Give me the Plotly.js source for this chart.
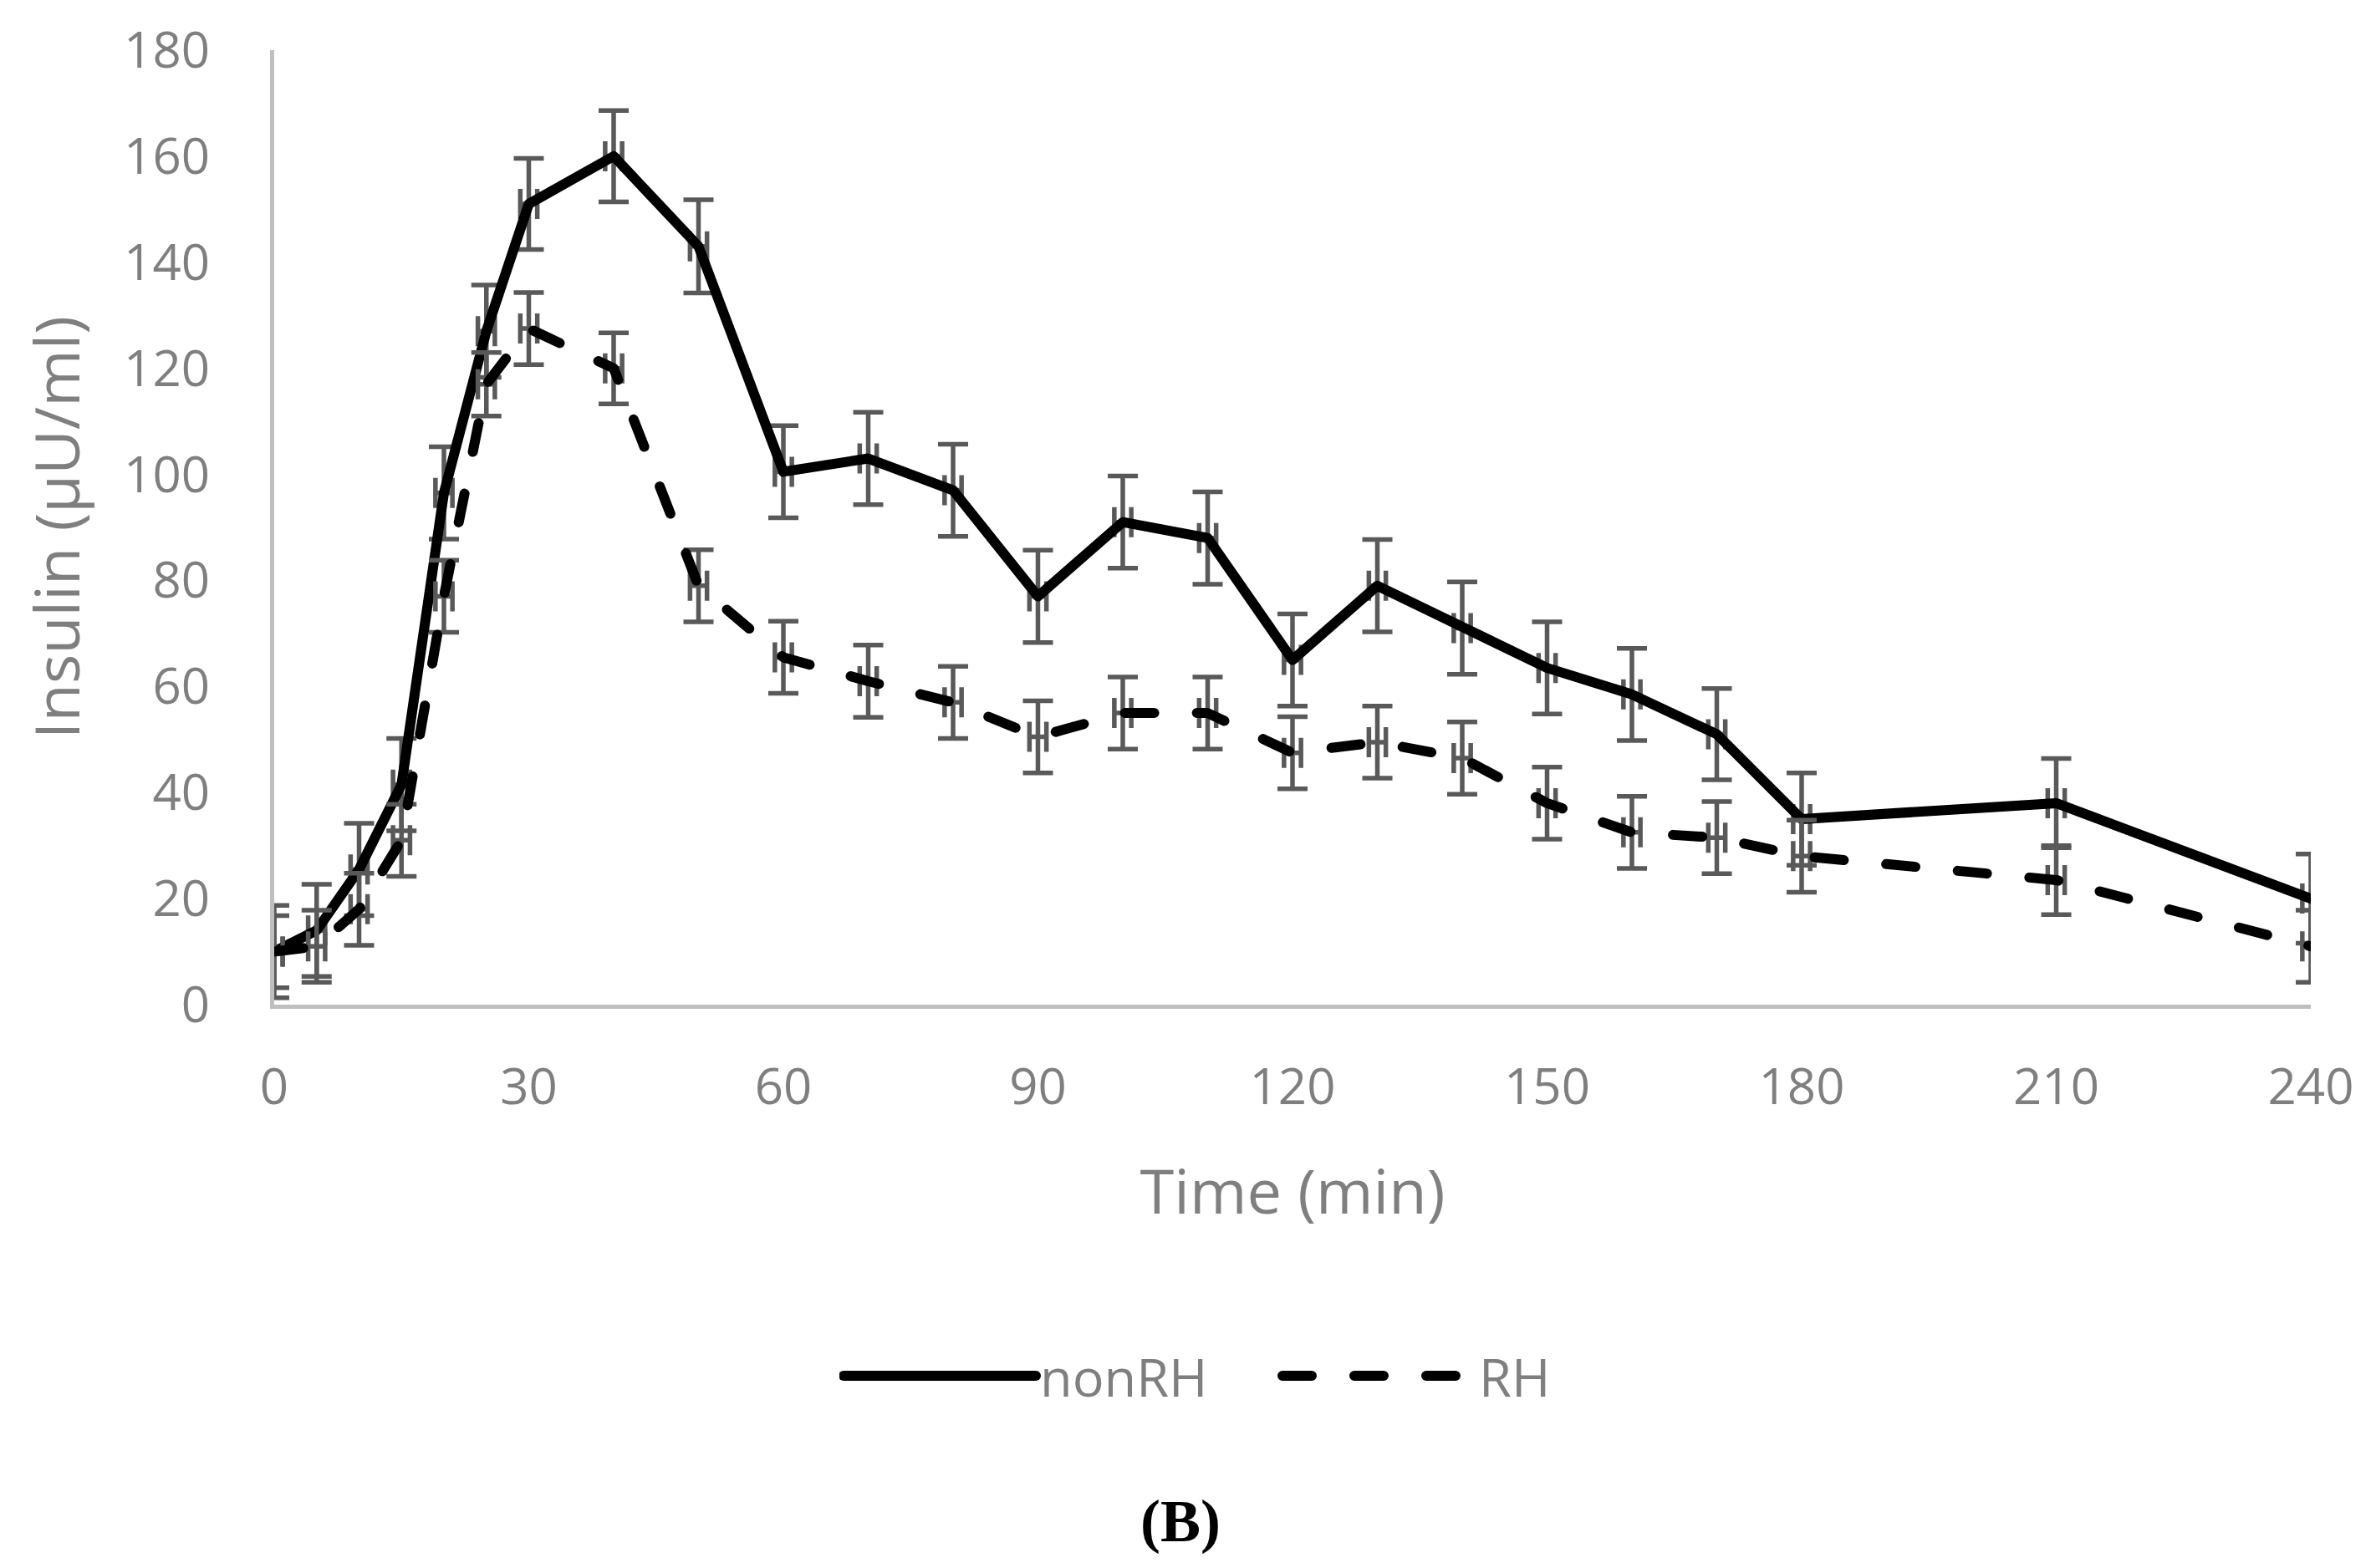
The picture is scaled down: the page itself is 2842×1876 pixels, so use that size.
<!DOCTYPE html>
<html>
<head>
<meta charset="utf-8">
<script src="https://cdn.plot.ly/plotly-3.0.1.min.js"></script>
<style>
  html, body { margin: 0; padding: 0; background: #fff; }
  #chart { width: 2842px; height: 1876px; }
</style>
</head>
<body>
<div id="chart"></div>
<script>
// Insulin curves
const timeMin = [0, 5, 10, 15, 20, 25, 30, 40, 50, 60, 70, 80, 90, 100, 110, 120, 130, 140, 150, 160, 170, 180, 210, 240];
const nonRH = [10, 14, 25.5, 41.5, 96.5, 127, 151, 160, 143, 100.5, 103, 97, 77, 91, 88, 65, 79, 71, 63.5, 58.5, 51, 35, 38, 20];
const RH = [10, 11, 18, 31, 77, 117, 127.5, 120, 79, 65.5, 61, 57, 50.5, 55, 55, 47.5, 49.5, 46.5, 38, 32.5, 31.5, 28, 23.5, 11];
const nonRHErr = [8.7, 8.7, 8.7, 8.7, 8.7, 8.7, 8.6, 8.6, 8.8, 8.7, 8.7, 8.7, 8.7, 8.7, 8.7, 8.7, 8.7, 8.7, 8.7, 8.7, 8.6, 8.7, 8.4, 8.4];
const RHErr = [6.8, 6.8, 6.8, 6.8, 6.8, 6.0, 6.8, 6.7, 6.8, 6.8, 6.8, 6.8, 6.8, 6.8, 6.8, 6.8, 6.8, 6.8, 6.8, 6.8, 6.8, 6.8, 6.5, 6.8];
const xErr = 1;
const xTicks = [0, 30, 60, 90, 120, 150, 180, 210, 240];

const gray = '#7f7f7f';
const barColor = '#595959';
const font = 'Open Sans, Segoe UI, sans-serif';
const lineW = 12;

function series(name, y, err, dash) {
  return {
    type: 'scatter', mode: 'lines', name, x: timeMin, y,
    line: { color: '#000', width: lineW, dash },
    error_y: { type: 'data', array: err, visible: true, color: barColor, thickness: 5.5, width: 18 },
    error_x: { type: 'constant', value: xErr, visible: true, color: barColor, thickness: 5.5, width: 18 },
    hoverinfo: 'x+y+name'
  };
}

const data = [
  series('nonRH', nonRH, nonRHErr, 'solid'),
  series('RH', RH, RHErr, '35px,51px')
];

const layout = {
  width: 2842, height: 1876,
  margin: { l: 328, r: 78, t: 60, b: 674 },
  paper_bgcolor: '#fff', plot_bgcolor: '#fff',
  font: { family: font, color: gray, size: 60 },
  xaxis: {
    range: [0, 240], tickvals: xTicks, ticktext: xTicks.map(String),
    showgrid: false, zeroline: false, showline: true, linecolor: '#bfbfbf', linewidth: 5,
    ticks: '', ticklabelstandoff: 42,
    tickfont: { size: 60, color: gray },
    title: { text: 'Time (min)', font: { size: 74, color: gray }, standoff: 64 }
  },
  yaxis: {
    range: [0, 180], dtick: 20,
    showgrid: false, zeroline: false, showline: true, linecolor: '#bfbfbf', linewidth: 5,
    ticks: '', ticklabelstandoff: 60,
    tickfont: { size: 60, color: gray },
    title: { text: 'Insulin (µU/ml)', font: { size: 74, color: gray }, standoff: 30 }
  },
  showlegend: true,
  legend: {
    orientation: 'h', xref: 'container', yref: 'container',
    x: 0.538, xanchor: 'center', y: 0.1226, yanchor: 'middle',
    font: { size: 63, color: gray }, itemwidth: 230,
    entrywidth: 280, entrywidthmode: 'pixels'
  },
  annotations: [{
    text: '<b>(B)</b>', xref: 'paper', yref: 'paper', x: 0.445, y: -0.541,
    xanchor: 'center', yanchor: 'middle', showarrow: false,
    font: { family: 'Liberation Serif, Times New Roman, serif', size: 72, color: '#000' }
  }]
};

Plotly.newPlot('chart', data, layout, { displayModeBar: false, staticPlot: true }).then(gd => {
  // Excel-style rounded line ends, legend lines as thick as the plot lines
  gd.querySelectorAll('.scatterlayer .js-line, .legendlines path').forEach(p => {
    p.style.strokeLinecap = 'round';
    p.style.strokeLinejoin = 'round';
  });
  gd.querySelectorAll('.legendlines path').forEach(p => { p.style.strokeWidth = lineW + 'px'; });
});
</script>
</body>
</html>
